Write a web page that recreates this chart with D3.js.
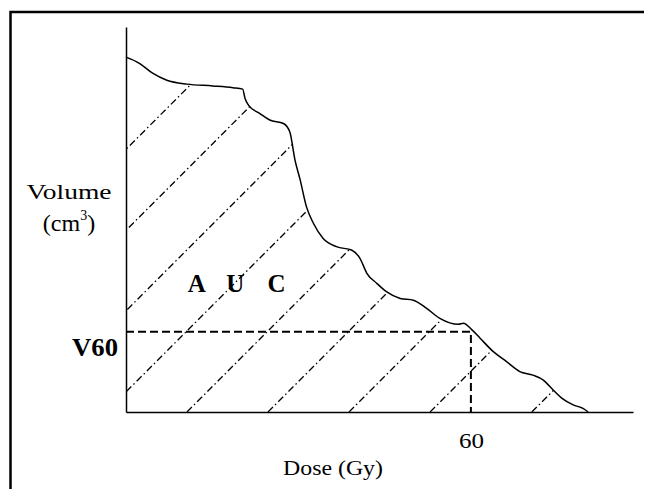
<!DOCTYPE html>
<html>
<head>
<meta charset="utf-8">
<script src="https://cdn.jsdelivr.net/npm/d3@7"></script>
<style>
  html, body { margin: 0; padding: 0; overflow: hidden; background: #fff; }
  svg { display: block; }
</style>
</head>
<body>
<svg id="canvas"></svg>
<script>
// dose-volume curve (dose in Gy, volume in arbitrary units)
const dose = [0, 2.4, 4.7, 7.1, 10.6, 15.1, 18.6, 20.3, 20.7, 21.3, 23.3, 25.0, 27.4, 28.5,
  29.4, 30.3, 31.4, 32.6, 34.3, 36.6, 39.3, 40.7, 41.9, 43.6, 45.3, 47.7, 50.0, 52.3,
  54.6, 57.8, 58.7, 60.1, 61.6, 63.9, 66.2, 68.5, 70.8, 72.6, 74.3, 75.8, 77.8, 79.5, 80.4];
const volume = [100, 98.2, 95.4, 93.5, 92.4, 91.9, 91.4, 91.0, 88.4, 86.5, 84.1, 82.3, 81.3, 78.9,
  71.0, 65.4, 57.8, 53.2, 48.9, 46.6, 45.6, 43.3, 39.1, 36.3, 33.9, 32.0, 31.5, 29.2,
  26.4, 24.7, 25.0, 23.3, 20.8, 17.0, 14.2, 11.4, 10.4, 9.0, 6.2, 3.9, 2.0, 1.0, 0];

// hatch lines of the AUC, where they cross the dose axis (Gy)
const hatchStarts = [-45.7, -31.6, -17.6, -3.5, 10.6, 24.7, 38.8, 52.9, 70.6];

const xTicks = [60];
const v60Dose = 60;
const v60Volume = 22.6;
const aucLetters = ["A", "U", "C"];
const aucDose = [12.3, 19.0, 26.2];
const aucVolume = 33.9;

const serif = "'Liberation Serif', 'Times New Roman', Times, serif";
const width = 645, height = 489;
const svg = d3.select("#canvas").attr("width", width).attr("height", height);

// outer frame: only the left and top edges are in view
svg.append("path")
  .attr("d", `M10.5,${height + 5}V12H${width - 1}`)
  .attr("fill", "none")
  .attr("stroke", "black")
  .attr("stroke-width", 2.5);

const x = d3.scaleLinear().domain([0, 88.2]).range([126, 633]);
const y = d3.scaleLinear().domain([0, 108.5]).range([412, 27]);

const data = dose.map((d, i) => ({ dose: d, vol: volume[i] }));

const line = d3.line()
  .x(d => x(d.dose))
  .y(d => y(d.vol))
  .curve(d3.curveMonotoneX);

const area = d3.area()
  .x(d => x(d.dose))
  .y0(y(0))
  .y1(d => y(d.vol))
  .curve(d3.curveMonotoneX);

svg.append("clipPath").attr("id", "auc")
  .append("path").datum(data).attr("d", area);

// dash-dot hatching, 45 degrees on screen
const hatch = svg.append("g").attr("clip-path", "url(#auc)");
hatch.selectAll("line")
  .data(hatchStarts)
  .enter()
  .append("line")
  .attr("x1", d => x(d))
  .attr("y1", y(0))
  .attr("x2", d => x(d) + 420)
  .attr("y2", y(0) - 420)
  .attr("stroke", "black")
  .attr("stroke-width", 1.3)
  .attr("stroke-dasharray", "7,3,1.5,3");

// V60 guide lines
svg.append("path")
  .attr("d", `M${x(0)},${y(v60Volume)}H${x(v60Dose)}V${y(0)}`)
  .attr("fill", "none")
  .attr("stroke", "black")
  .attr("stroke-width", 2)
  .attr("stroke-dasharray", "8,4");

// the curve
svg.append("path")
  .datum(data)
  .attr("fill", "none")
  .attr("stroke", "black")
  .attr("stroke-width", 1.5)
  .attr("d", line);

// axes
const xAxis = svg.append("g")
  .attr("transform", `translate(0,${y(0)})`)
  .call(d3.axisBottom(x).tickValues(xTicks).tickSize(0).tickSizeOuter(0).tickPadding(21).tickFormat(d3.format("d")));
xAxis.select(".domain").attr("stroke-width", 1.5);
xAxis.selectAll("text")
  .style("font-family", serif)
  .style("font-size", "21px")
  .attr("textLength", 25)
  .attr("lengthAdjust", "spacingAndGlyphs");

const yAxis = svg.append("g")
  .attr("transform", `translate(${x(0)},0)`)
  .call(d3.axisLeft(y).tickValues([]).tickSizeOuter(0));
yAxis.select(".domain").attr("stroke-width", 1.5);

// labels
const labels = svg.append("g").style("font-family", serif).attr("fill", "black");

labels.append("text")
  .attr("x", 69).attr("y", 199)
  .attr("text-anchor", "middle")
  .style("font-size", "22px")
  .attr("textLength", 85).attr("lengthAdjust", "spacingAndGlyphs")
  .text("Volume");

const cm = labels.append("text")
  .attr("x", 69).attr("y", 231)
  .attr("text-anchor", "middle")
  .style("font-size", "24px");
cm.append("tspan").text("(cm");
cm.append("tspan").style("font-size", "14px").attr("dy", -11).text("3");
cm.append("tspan").attr("dy", 11).text(")");

labels.append("text")
  .attr("x", 118).attr("y", y(v60Volume) + 24)
  .attr("text-anchor", "end")
  .style("font-size", "25px").style("font-weight", "bold")
  .attr("textLength", 46).attr("lengthAdjust", "spacingAndGlyphs")
  .text("V60");

labels.selectAll(".auc")
  .data(aucLetters)
  .enter()
  .append("text")
  .attr("class", "auc")
  .attr("x", (d, i) => x(aucDose[i]))
  .attr("y", y(aucVolume))
  .attr("text-anchor", "middle")
  .style("font-size", "25px").style("font-weight", "bold")
  .text(d => d);

labels.append("text")
  .attr("x", 333).attr("y", 475)
  .attr("text-anchor", "middle")
  .style("font-size", "22px")
  .attr("textLength", 100).attr("lengthAdjust", "spacingAndGlyphs")
  .text("Dose (Gy)");
</script>
</body>
</html>
